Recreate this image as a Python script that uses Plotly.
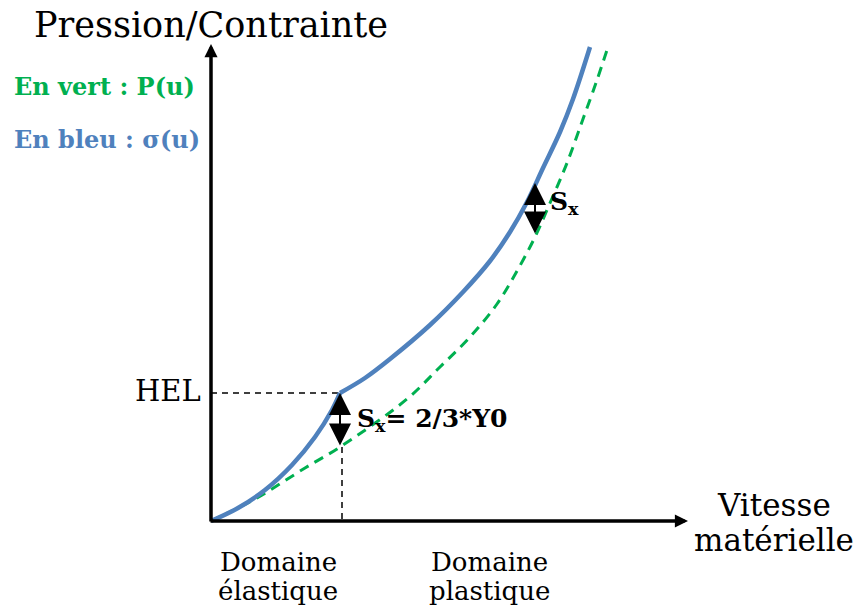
import plotly.graph_objects as go

# ---- data (arbitrary units: material velocity u, stress / pressure) ----
u_elastic = [0, 0.54, 1.08, 1.62, 2.08, 2.42, 2.58]
sigma_elastic = [0, 0.26, 0.62, 1.12, 1.68, 2.22, 2.56]
u_plastic = [2.58, 3.08, 3.58, 4.38, 5.04, 5.58, 5.98, 6.32, 6.64, 6.98, 7.24, 7.58]
sigma_plastic = [2.56, 2.86, 3.24, 3.92, 4.58, 5.20, 5.78, 6.38, 7.06, 7.78, 8.44, 9.48]
u_p = [0, 0.88, 1.88, 2.58, 3.92, 4.58, 5.18, 5.72, 6.12, 6.48, 6.78, 7.12, 7.44, 7.72, 7.92]
p_u = [0, 0.44, 1.06, 1.48, 2.44, 3.08, 3.68, 4.34, 5.00, 5.68, 6.36, 7.16, 8.04, 8.82, 9.42]

u_hel = 2.62
hel = 2.56
p_hel = 1.48
sx_u = [2.58, 6.48]
sx_top = [2.56, 6.76]
sx_bot = [1.48, 5.72]
axis_len = 9.54

BLUE = "rgb(79,129,189)"
GREEN = "rgb(0,176,80)"
SERIF = "DejaVu Serif"

fig = go.Figure()

# dashed guides
fig.add_trace(go.Scatter(x=[0, u_hel], y=[hel, hel], mode="lines",
                         line=dict(color="black", width=1.5, dash="6px,5px"),
                         hoverinfo="skip", showlegend=False))
fig.add_trace(go.Scatter(x=[u_hel, u_hel], y=[p_hel, 0], mode="lines",
                         line=dict(color="black", width=1.5, dash="6px,5px"),
                         hoverinfo="skip", showlegend=False))

# P(u) green dashed
fig.add_trace(go.Scatter(x=u_p, y=p_u, mode="lines",
                         line=dict(color=GREEN, width=3, dash="10px,7px", shape="spline", smoothing=1.0),
                         showlegend=False))
# sigma(u) blue
fig.add_trace(go.Scatter(x=u_elastic, y=sigma_elastic, mode="lines",
                         line=dict(color=BLUE, width=4.5, shape="spline", smoothing=1.0),
                         showlegend=False))
fig.add_trace(go.Scatter(x=u_plastic, y=sigma_plastic, mode="lines",
                         line=dict(color=BLUE, width=4.5, shape="spline", smoothing=1.0),
                         showlegend=False))

anns = []
# axes arrows
anns.append(dict(x=axis_len, y=0, ax=-0.04, ay=0, xref="x", yref="y", axref="x", ayref="y",
                 text="", showarrow=True, arrowhead=2, arrowwidth=3.5, arrowsize=0.75,
                 arrowcolor="black", standoff=0))
anns.append(dict(x=0, y=axis_len, ax=0, ay=-0.04, xref="x", yref="y", axref="x", ayref="y",
                 text="", showarrow=True, arrowhead=2, arrowwidth=3.5, arrowsize=0.75,
                 arrowcolor="black", standoff=0))
# Sx double arrows
for xu, yt, yb in zip(sx_u, sx_top, sx_bot):
    anns.append(dict(x=xu, y=yt, ax=xu, ay=yb, xref="x", yref="y", axref="x", ayref="y",
                     text="", showarrow=True, arrowhead=2, startarrowhead=2,
                     arrowside="end+start", arrowwidth=2, arrowsize=2.2, startarrowsize=2.2,
                     arrowcolor="black", standoff=0, startstandoff=0))

def txt(text, px, py, size, color="black", family=SERIF, xanchor="center", yanchor="middle", align="center"):
    anns.append(dict(text=text, x=px / 861, y=1 - py / 608, xref="paper", yref="paper",
                     showarrow=False, xanchor=xanchor, yanchor=yanchor, align=align,
                     font=dict(family=family, size=size, color=color)))

txt("Pression/Contrainte", 211, 25, 35)
txt("<b>En vert : P(u)</b>", 12, 87, 24, color=GREEN, xanchor="left")
txt("<b>En bleu : σ(u)</b>", 12, 139, 24, color=BLUE, xanchor="left")
txt("HEL", 203, 391, 29, xanchor="right")
txt("<b>S<sub>x</sub>= 2/3*Y0</b>", 355, 420, 25, xanchor="left")
txt("<b>S<sub>x</sub></b>", 548, 203, 25, xanchor="left")
txt("Vitesse", 774, 505, 31)
txt("matérielle", 774, 540, 31)
txt("Domaine", 278, 562, 26)
txt("élastique", 278, 591, 26)
txt("Domaine", 489, 562, 26)
txt("plastique", 489, 591, 26)

fig.update_layout(
    width=861, height=608,
    margin=dict(l=0, r=0, t=0, b=0),
    paper_bgcolor="white", plot_bgcolor="white",
    xaxis=dict(range=[-211 / 50, 650 / 50], visible=False, fixedrange=True),
    yaxis=dict(range=[-87 / 50, 521 / 50], visible=False, fixedrange=True),
    annotations=anns,
    showlegend=False,
)

fig.write_html("out.html", config={"displayModeBar": False},
               post_script="document.body.style.margin='0';document.body.style.overflow='hidden';")
